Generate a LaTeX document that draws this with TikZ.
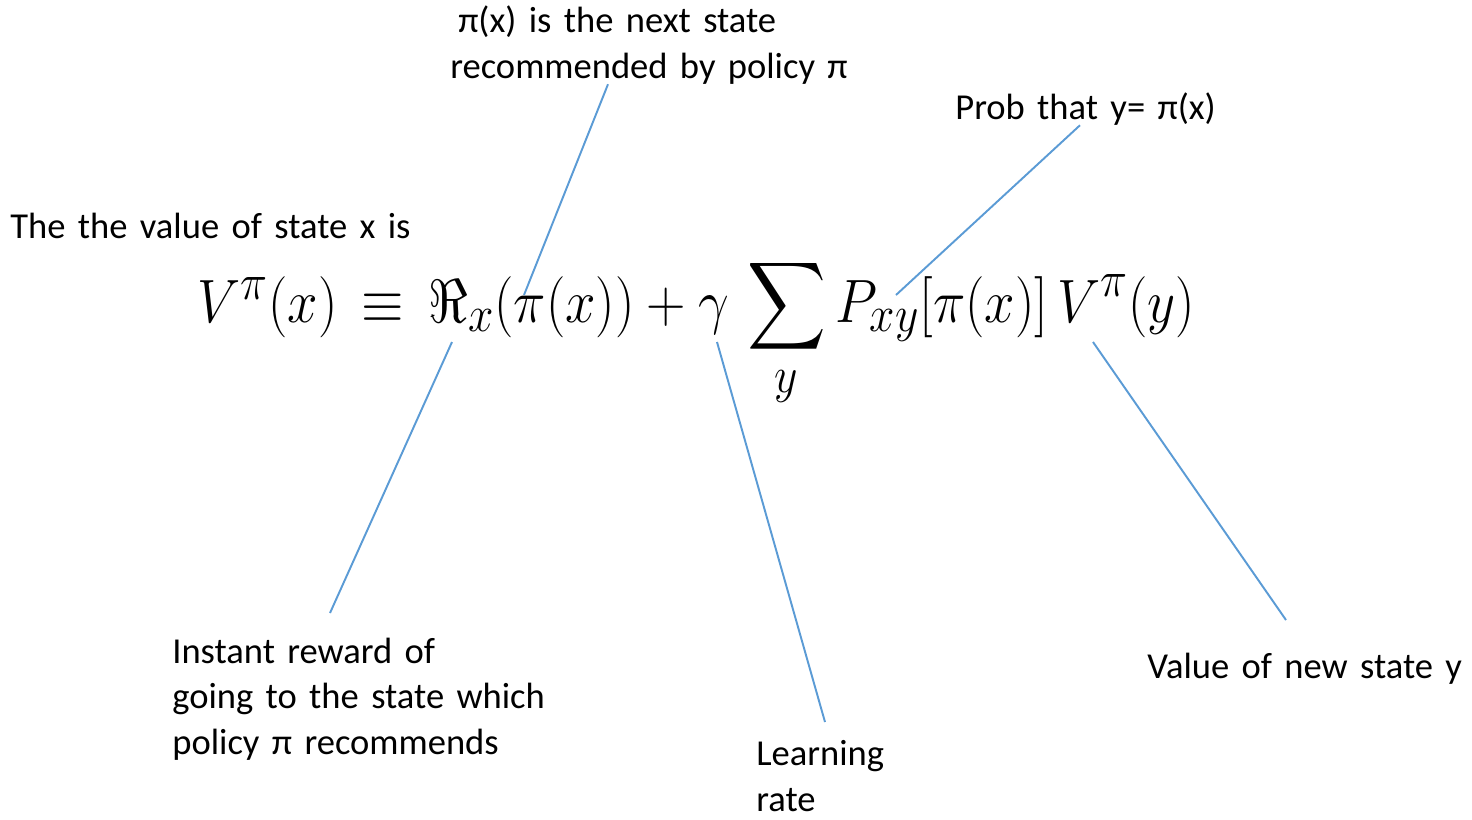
\documentclass[tikz,border=0pt]{standalone}
\usepackage{amsmath}
\usepackage{graphicx}
\usepackage{fontspec}
\setmainfont{Carlito}[WordSpace=1.5]
\definecolor{calloutblue}{HTML}{5B9BD5}
\usetikzlibrary{calc}

\begin{document}
\begin{tikzpicture}[x=0.02cm, y=-0.02cm,
  callout/.style={draw=calloutblue, line width=1.1pt},
  note/.style={anchor=base west, inner sep=0pt, align=left,
    font=\fontsize{20.8}{25.8}\selectfont}]
  \useasboundingbox (0,0) rectangle (1472,819);

  % the value equation
  \node[anchor=base west, inner sep=0pt, font=\Huge] (eqn) at (197,322)
    {\scalebox{1.25}[1.4]{$V^{\pi}(x) \,\equiv\, \Re_x(\pi(x)) + \gamma\, \displaystyle\sum_{y} P_{xy}[\pi(x)]\,V^{\pi}(y)$}};
  \coordinate (pix) at (524,295);
  \coordinate (pxy) at (896,295);
  \coordinate (rx) at (452,342);
  \coordinate (gamma) at (717,342);
  \coordinate (vy) at (1093,342);

  % labels
  \node[note] (valuex) at (10,238) {The the value of state x is};
  \node[note] (nextstate) at (450,78) {\hspace*{4.5pt}π(x) is the next state\\recommended by policy π};
  \node[note] (prob) at (955,119) {Prob that y= π(x)};
  \node[note] (reward) at (172,754) {Instant reward of\\going to the state which\\policy π recommends};
  \node[note] (lrate) at (756,811) {Learning\\rate};
  \node[note] (newvalue) at (1147,678) {Value of new state y};

  % callouts
  \draw[callout] (nextstate.south -| 608,0) -- (pix);
  \draw[callout] (prob.south -| 1080,0) -- (pxy);
  \draw[callout] (rx) -- (330,613);
  \draw[callout] (gamma) -- (825,722);
  \draw[callout] (vy) -- (1286,620);
\end{tikzpicture}
\end{document}
